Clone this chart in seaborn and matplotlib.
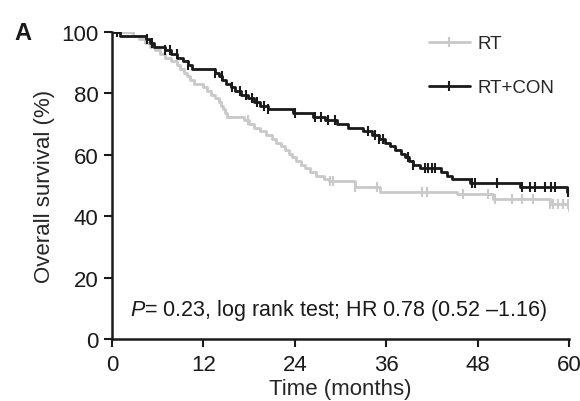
import numpy as np
import pandas as pd
import seaborn as sns
import matplotlib
matplotlib.use("Agg")
import matplotlib.pyplot as plt
from matplotlib.lines import Line2D

# Kaplan-Meier steps (time in months, survival in %)
rt_time = [0, 2.8, 3.5, 4.3, 5.0, 5.7, 6.3, 7.0, 7.7, 8.5, 9.0, 9.4, 9.8, 10.3, 10.8,
           12.0, 12.5, 13.0, 13.5, 14.0, 14.3, 14.6, 14.9, 15.1, 17.3, 18.0, 18.7,
           19.4, 20.2, 21.0, 21.6, 22.2, 22.7, 23.2, 23.6, 24.2, 24.8, 25.4, 26.0,
           26.8, 27.8, 28.5, 31.9, 35.2, 45.3, 50.0, 57.5, 60.0]
rt_surv = [100, 98.8, 97.6, 96.4, 95.2, 94.0, 92.8, 91.6, 90.4, 89.2, 88.0, 86.8, 85.6,
           84.4, 83.2, 82.0, 80.8, 79.6, 78.4, 77.2, 76.0, 74.8, 73.6, 72.4, 71.2, 70.0,
           68.8, 67.6, 66.4, 65.2, 64.0, 62.8, 61.6, 60.4, 59.2, 58.0, 56.8, 55.6, 54.4,
           53.2, 52.0, 51.5, 49.5, 47.9, 47.2, 45.6, 44.0, 41.7]
rt_censor = [17.9, 28.6, 29.0, 31.9, 34.8, 40.7, 41.4, 46.1, 49.4, 50.3, 52.5, 53.8,
             55.3, 57.5, 57.9, 58.6, 59.2, 59.9]

con_time = [0, 1.0, 4.5, 5.0, 5.5, 7.0, 7.8, 8.6, 9.3, 10.0, 10.5, 13.5, 14.0, 14.5,
            15.0, 15.6, 16.2, 17.0, 17.8, 18.6, 19.5, 20.5, 23.8, 26.4, 28.0, 29.5,
            31.0, 33.0, 34.2, 35.0, 35.8, 36.5, 37.2, 37.9, 38.5, 39.0, 39.5, 40.5,
            43.2, 44.0, 44.6, 47.0, 53.6, 59.8, 60.0]
con_surv = [100, 98.8, 97.6, 96.4, 95.2, 94.0, 92.8, 91.6, 90.4, 89.2, 88.0, 86.8, 85.6,
            84.4, 83.2, 82.0, 80.8, 79.6, 78.4, 77.2, 76.0, 74.8, 73.6, 72.4, 71.2, 70.0,
            68.8, 67.6, 66.4, 65.2, 64.0, 62.8, 61.6, 60.4, 59.2, 58.0, 56.8, 55.6, 54.4,
            53.2, 52.0, 50.8, 49.6, 48.0, 48.0]
con_censor = [0.7, 4.6, 5.2, 7.0, 7.6, 8.5, 10.0, 13.5, 14.4, 15.8, 16.8, 17.6, 18.4,
              19.0, 19.9, 20.5, 24.0, 26.6, 27.5, 28.4, 29.3, 33.6, 34.5, 35.0, 35.6,
              38.9, 39.5, 41.1, 41.5, 42.0, 42.4, 47.3, 47.7, 50.5, 53.8, 54.9, 55.5,
              56.8, 57.7, 58.2, 59.9]

groups = ["RT", "RT+CON"]
colors = {"RT": "#c9c9c9", "RT+CON": "#1a1a1a"}

df = pd.concat([
    pd.DataFrame({"time": rt_time, "surv": rt_surv, "grp": "RT"}),
    pd.DataFrame({"time": con_time, "surv": con_surv, "grp": "RT+CON"}),
])

sns.set_theme(style="ticks")
plt.rcParams["font.family"] = ["Liberation Sans", "DejaVu Sans"]
plt.rcParams["mathtext.fontset"] = "custom"
plt.rcParams["mathtext.it"] = "Liberation Sans:italic"
plt.rcParams["mathtext.rm"] = "Liberation Sans"

fig = plt.figure(figsize=(5.8, 4.02), dpi=100)
ax = fig.add_axes([0.193, 0.154, 0.788, 0.764])

sns.lineplot(data=df, x="time", y="surv", hue="grp", palette=colors, estimator=None,
             drawstyle="steps-post", linewidth=2.0, legend=False, ax=ax, sort=False)

# censor marks on the step curves
for g, t, s, c in [("RT", rt_time, rt_surv, rt_censor), ("RT+CON", con_time, con_surv, con_censor)]:
    idx = np.searchsorted(t, c, side="right") - 1
    y = np.array(s)[idx]
    ax.plot(c, y, linestyle="none", marker="|", markersize=7, markeredgewidth=1.5,
            color=colors[g])

ax.set_xlim(0, 60)
ax.set_ylim(0, 100)
ax.set_xticks([0, 12, 24, 36, 48, 60])
ax.set_yticks([0, 20, 40, 60, 80, 100])
ax.tick_params(labelsize=16, length=6, width=1.5, colors="#1a1a1a")
ax.tick_params(axis="x", pad=5)
for sp in ["left", "bottom"]:
    ax.spines[sp].set_linewidth(1.8)
    ax.spines[sp].set_color("#1a1a1a")
sns.despine(ax=ax)
ax.set_xlabel("Time (months)", fontsize=16, labelpad=2)
ax.set_ylabel("Overall survival (%)", fontsize=16, labelpad=5)

handles = [Line2D([0], [0], color=colors[g], lw=2.0, marker="|", markersize=7,
                  markeredgewidth=1.5) for g in groups]
ax.legend(handles, groups, loc="upper right", bbox_to_anchor=(1.005, 1.045), frameon=False,
          fontsize=13.5, handlelength=2.2, handletextpad=0.4, labelspacing=1.45, numpoints=1)

ax.text(29.8, 5.5, r"$P$= 0.23, log rank test; HR 0.78 (0.52 –1.16)", ha="center",
        va="bottom", fontsize=15.5, color="#1a1a1a")
fig.text(0.024, 0.9, "A", fontsize=17, fontweight="bold", color="#1a1a1a")

fig.savefig("out.png", dpi=100)
